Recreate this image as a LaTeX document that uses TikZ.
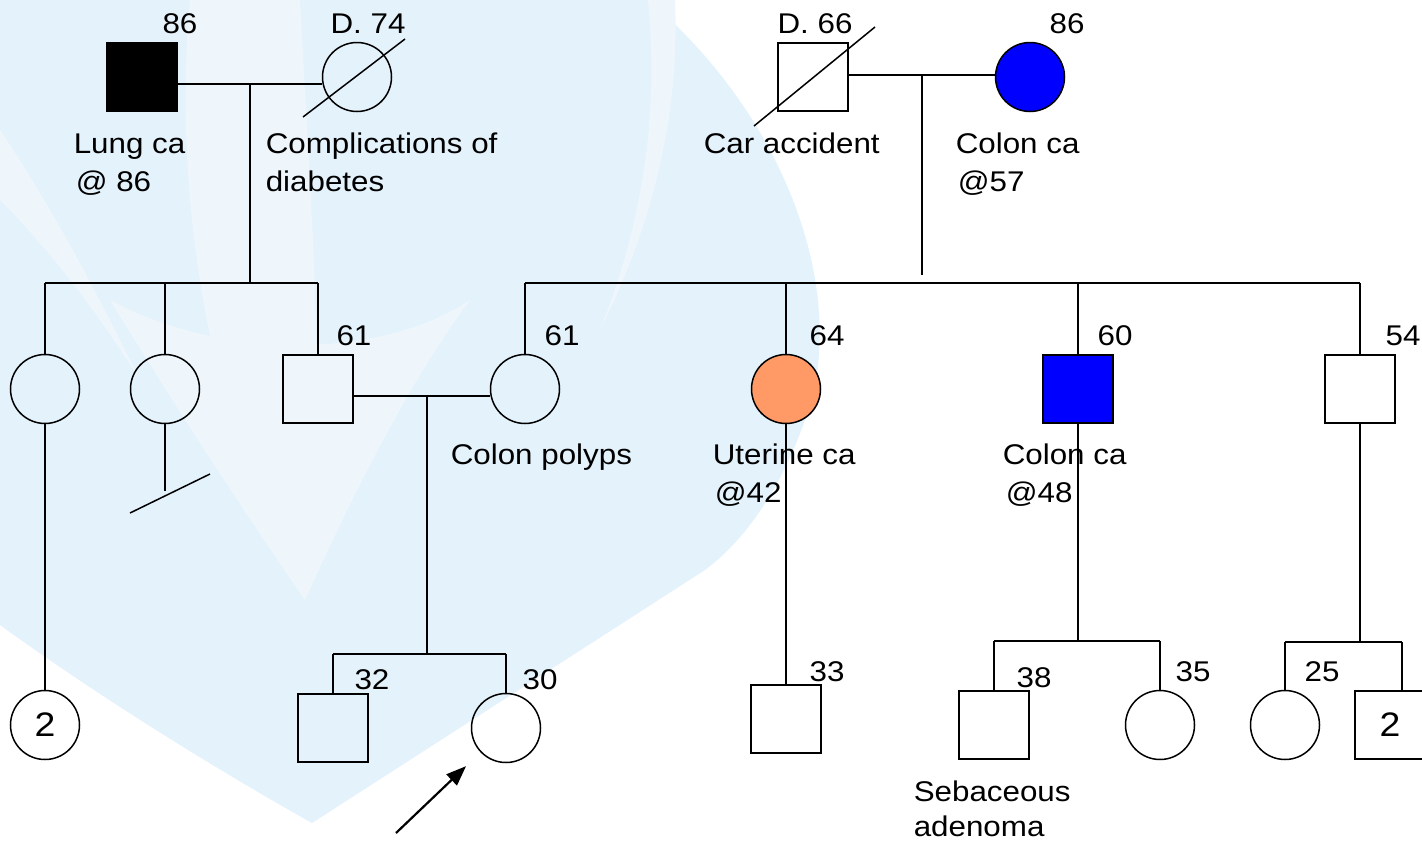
\documentclass[tikz,border=0pt]{standalone}
\usepackage{fontspec}
\setmainfont{Liberation Sans}[FakeStretch=1.1]
\usepackage{tikz}
\usepackage{xcolor}
\usetikzlibrary{arrows.meta}

\definecolor{wmblue}{RGB}{228,242,251}
\definecolor{wmpale}{RGB}{238,246,252}
\definecolor{affblue}{RGB}{0,0,255}
\definecolor{uterine}{RGB}{255,153,102}

\begin{document}
\begin{tikzpicture}[x=1pt,y=-1pt,line width=1.5pt,>={Triangle[length=20pt,width=15pt]},
                    font=\fontsize{28.5}{34}\selectfont]
  \tikzstyle{male}=[draw,rectangle,minimum width=70pt,minimum height=68pt,inner sep=0pt]
  \tikzstyle{female}=[draw,circle,minimum size=69pt,inner sep=0pt]
  \tikzstyle{count}=[font=\fontsize{34}{40}\selectfont]
  \tikzstyle{age}=[anchor=base,inner sep=0pt]
  \tikzstyle{note}=[anchor=base west,inner sep=0pt]

  % watermark of the slide
  \fill[white] (0,0) rectangle (1422,841);
  \fill[wmblue] (0,0) -- (648,0) .. controls (790,120) and (850,300) .. (805,420)
        .. controls (780,490) and (745,540) .. (705,570) -- (312,823)
        .. controls (200,760) and (90,690) .. (0,625) -- cycle;
  \fill[wmpale] (190,0) .. controls (170,220) and (220,450) .. (305,600)
        .. controls (330,430) and (310,200) .. (300,0) -- cycle;
  \fill[wmpale] (110,300) .. controls (190,430) and (250,520) .. (305,600)
        .. controls (350,500) and (410,380) .. (470,300)
        .. controls (380,360) and (220,360) .. cycle;
  \fill[wmpale] (0,130) .. controls (60,220) and (100,300) .. (140,380)
        .. controls (90,300) and (40,240) .. (0,200) -- cycle;
  \fill[wmpale] (648,0) .. controls (660,120) and (640,230) .. (600,330)
        .. controls (650,230) and (680,120) .. (675,0) -- cycle;
  \useasboundingbox (0,0) rectangle (1422,841);

  % grandparents
  \node[male,fill=black]           (pgf) at (142,77) {};
  \node[female]                    (pgm) at (357,77) {};
  \node[male]                      (mgf) at (813,77) {};
  \node[female,fill=affblue]       (mgm) at (1030,77) {};

  % parents, aunts and uncles
  \node[female]                    (pa1) at (45,389) {};
  \node[female]                    (pa2) at (165,389) {};
  \node[male]                      (fa)  at (318,389) {};
  \node[female]                    (mo)  at (525,389) {};
  \node[female,fill=uterine]       (ma)  at (786,389) {};
  \node[male,fill=affblue]         (mu)  at (1078,389) {};
  \node[male]                      (mu2) at (1360,389) {};

  % proband, brother and cousins
  \node[female,count]              (cz1)  at (45,725) {2};
  \node[male]                      (br)   at (333,728) {};
  \node[female]                    (pb)   at (506,728) {};
  \node[male]                      (cz33) at (786,719) {};
  \node[male]                      (cz38) at (994,725) {};
  \node[female]                    (cz35) at (1160,725) {};
  \node[female]                    (cz25) at (1285,725) {};
  \node[male,count]                (cz2)  at (1390,725) {2};

  % deceased
  \draw (303,117) -- (405,39);
  \draw (754,126) -- (875,27);

  % ages
  \node[age] (a-pgf)  at (180,33)   {86};
  \node[age] (a-pgm)  at (368,33)   {D. 74};
  \node[age] (a-mgf)  at (815,33)   {D. 66};
  \node[age] (a-mgm)  at (1067,33)  {86};
  \node[age] (a-fa)   at (354,345)  {61};
  \node[age] (a-mo)   at (562,345)  {61};
  \node[age] (a-ma)   at (827,345)  {64};
  \node[age] (a-mu)   at (1115,345) {60};
  \node[age] (a-mu2)  at (1403,345) {54};
  \node[age] (a-br)   at (372,689)  {32};
  \node[age] (a-pb)   at (540,689)  {30};
  \node[age] (a-cz33) at (827,681)  {33};
  \node[age] (a-cz38) at (1034,687) {38};
  \node[age] (a-cz35) at (1193,681) {35};
  \node[age] (a-cz25) at (1322,681) {25};

  % notes
  \node[note] (n-pgf1) at (73,153)  {Lung ca};
  \node[note] (n-pgf2) at (75,191)  {@ 86};
  \node[note] (n-pgm1) at (265,153) {Complications of};
  \node[note] (n-pgm2) at (265,191) {diabetes};
  \node[note] (n-mgf)  at (703,153) {Car accident};
  \node[note] (n-mgm1) at (955,153) {Colon ca};
  \node[note] (n-mgm2) at (957,191) {@57};
  \node[note] (n-mo)   at (450,464) {Colon polyps};
  \node[note] (n-ma1)  at (712,464) {Uterine ca};
  \node[note] (n-ma2)  at (714,502) {@42};
  \node[note] (n-mu1)  at (1002,464) {Colon ca};
  \node[note] (n-mu2)  at (1005,502) {@48};
  \node[note] (n-cz1)  at (913,801) {Sebaceous};
  \node[note] (n-cz2)  at (913,836) {adenoma};

  % paternal side
  \coordinate (pm) at (250,84);
  \coordinate (ps) at (250,283);
  \draw (pgf.east |- pm) -- (pgm.west |- pm);
  \draw (pm) -- (ps);
  \draw (pa1.north |- ps) -- (fa.north |- ps);
  \foreach \p in {pa1,pa2,fa}
    \draw (\p.north |- ps) -- (\p.north);
  \draw (pa1.south) -- (cz1.north);
  \coordinate (nc) at (165,491);
  \draw (pa2.south) -- (nc);
  \draw (130,513) -- (210,474);

  % maternal side
  \coordinate (mm) at (922,75);
  \coordinate (ms) at (922,283);
  \draw (mgf.east |- mm) -- (mgm.west |- mm);
  \draw (mm) -- ([yshift=8pt]ms);
  \draw (mo.north |- ms) -- (mu2.north |- ms);
  \foreach \p in {mo,ma,mu,mu2}
    \draw (\p.north |- ms) -- (\p.north);
  \draw (ma.south) -- (cz33.north);
  \coordinate (us) at (1080,641);
  \draw (mu.south) -- (mu.south |- us);
  \draw (cz38.north |- us) -- (cz35.north |- us);
  \foreach \p in {cz38,cz35}
    \draw (\p.north |- us) -- (\p.north);
  \coordinate (vs) at (1360,642);
  \draw (mu2.south) -- (mu2.south |- vs);
  \draw (cz25.north |- vs) -- ([xshift=12pt]cz2.north |- vs);
  \draw (cz25.north |- vs) -- (cz25.north);
  \draw ([xshift=12pt]cz2.north |- vs) -- ([xshift=12pt]cz2.north);

  % parents and children
  \coordinate (fm) at (427,396);
  \coordinate (fs) at (427,654);
  \draw (fa.east |- fm) -- (mo.west |- fm);
  \draw (fm) -- (fs);
  \draw (br.north |- fs) -- (pb.north |- fs);
  \foreach \p in {br,pb}
    \draw (\p.north |- fs) -- (\p.north);

  % proband
  \coordinate (arr) at (396,833);
  \draw[->,line width=2.2pt,shorten >=20pt] (arr) -- (pb);
\end{tikzpicture}
\end{document}
